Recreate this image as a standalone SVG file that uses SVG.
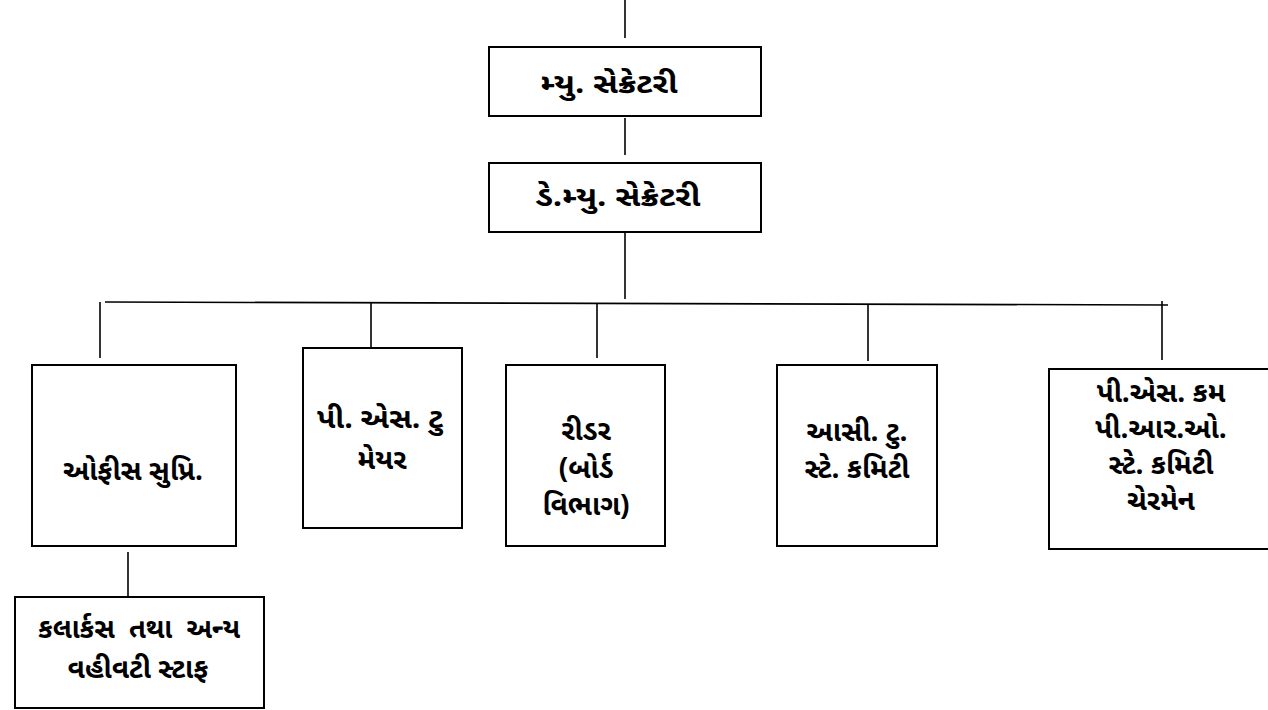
<svg xmlns="http://www.w3.org/2000/svg" width="1268" height="710" viewBox="0 0 1268 710">
<style>
.box{fill:#fff;stroke:#000;stroke-width:2}
.ln{stroke:#000;stroke-width:1.6;fill:none}
.t{font-family:"Noto Sans Gujarati","Lohit Gujarati","Noto Sans","DejaVu Sans",sans-serif;font-size:28px;font-weight:bold;fill:#000;text-anchor:middle}
</style>
<rect width="1268" height="710" fill="#fff"/>
<g id="connectors">
<line class="ln" x1="625" y1="0" x2="625" y2="38"/>
<line class="ln" x1="625" y1="118" x2="625" y2="155"/>
<line class="ln" x1="625" y1="232" x2="625" y2="299"/>
<line class="ln" x1="105" y1="302" x2="1168" y2="305"/>
<line class="ln" x1="100" y1="302" x2="100" y2="358"/>
<line class="ln" x1="371" y1="303" x2="371" y2="347"/>
<line class="ln" x1="597" y1="303" x2="597" y2="358"/>
<line class="ln" x1="868" y1="304" x2="868" y2="361"/>
<line class="ln" x1="1162" y1="301" x2="1162" y2="360"/>
<line class="ln" x1="128" y1="552" x2="128" y2="597"/>
</g>
<g id="mun-secretary">
<rect class="box" x="489" y="47" width="272" height="69"/>
<text class="t" x="609" y="93" textLength="137" lengthAdjust="spacingAndGlyphs">મ્યુ. સેક્રેટરી</text>
</g>
<g id="dy-mun-secretary">
<rect class="box" x="489" y="163" width="272" height="69"/>
<text class="t" x="618" y="206" textLength="165" lengthAdjust="spacingAndGlyphs">ડે.મ્યુ. સેક્રેટરી</text>
</g>
<g id="office-supdt">
<rect class="box" x="32" y="365" width="204" height="181"/>
<text class="t" x="133" y="480" textLength="140" lengthAdjust="spacingAndGlyphs">ઓફીસ સુપ્રિ.</text>
</g>
<g id="ps-to-mayor">
<rect class="box" x="303" y="348" width="159" height="180"/>
<text class="t" x="380" y="428" textLength="126" lengthAdjust="spacingAndGlyphs">પી. એસ. ટુ</text>
<text class="t" x="382" y="469">મેયર</text>
</g>
<g id="reader">
<rect class="box" x="506" y="365" width="159" height="181"/>
<text class="t" x="586" y="440">રીડર</text>
<text class="t" x="586" y="478">(બોર્ડ</text>
<text class="t" x="586" y="515">વિભાગ)</text>
</g>
<g id="asst-standing-committee">
<rect class="box" x="777" y="365" width="160" height="181"/>
<text class="t" x="857" y="441">આસી. ટુ.</text>
<text class="t" x="857" y="478">સ્ટે. કમિટી</text>
</g>
<g id="ps-cum-pro">
<rect class="box" x="1049" y="369" width="225" height="180"/>
<text class="t" x="1161" y="402">પી.એસ. કમ</text>
<text class="t" x="1161" y="438">પી.આર.ઓ.</text>
<text class="t" x="1161" y="474">સ્ટે. કમિટી</text>
<text class="t" x="1161" y="510">ચેરમેન</text>
</g>
<g id="clerks-staff">
<rect class="box" x="15" y="597" width="249" height="111"/>
<text class="t" x="139" y="638" xml:space="preserve" textLength="202" lengthAdjust="spacingAndGlyphs">કલાર્કસ  તથા  અન્ય</text>
<text class="t" x="138" y="678">વહીવટી સ્ટાફ</text>
</g>
</svg>
